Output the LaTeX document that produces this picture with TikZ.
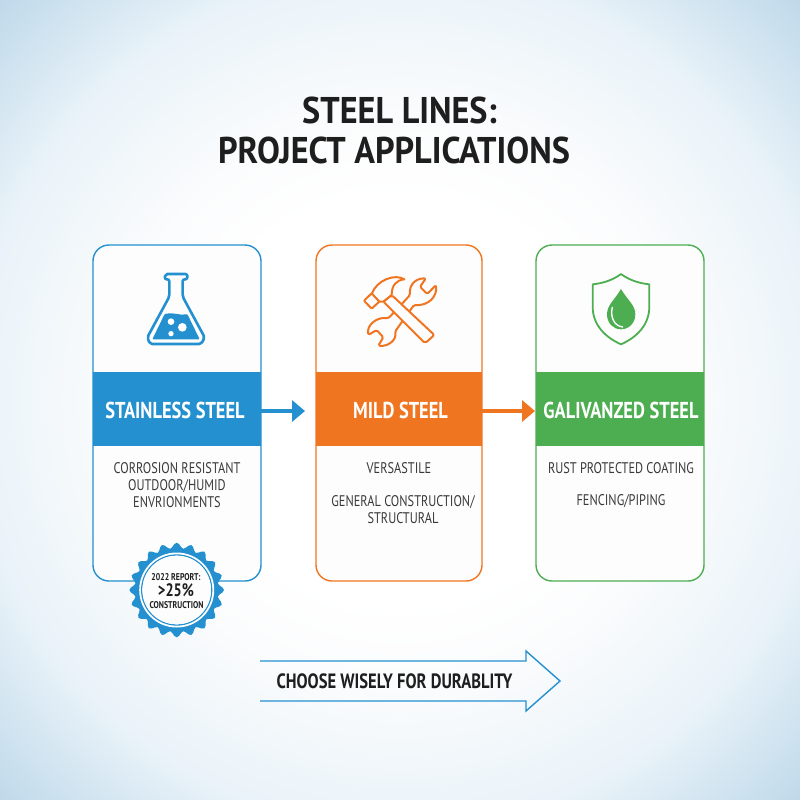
\documentclass[tikz,border=0pt]{standalone}
\usepackage{fontspec}
\setmainfont{PT Sans}
\newfontfamily\condfont[FakeStretch=0.80]{PT Sans}
\newfontfamily\titlefont[FakeStretch=0.92]{PT Sans}
\usetikzlibrary{arrows.meta,calc}
\definecolor{bluec}{HTML}{2490CF}
\definecolor{orangec}{HTML}{F07520}
\definecolor{greenc}{HTML}{4CAE50}
\definecolor{inkc}{HTML}{1E1E1E}
\definecolor{bodyc}{HTML}{3A3A3A}
\definecolor{edgec}{HTML}{BFD9EA}
\definecolor{midc}{HTML}{EAF3F9}
\definecolor{nearc}{HTML}{FBFCFD}
\definecolor{cardc}{HTML}{FDFDFE}
\pgfdeclareradialshading{bgshade}{\pgfpoint{0bp}{0bp}}{color(0bp)=(white); color(9bp)=(white); color(12.5bp)=(nearc); color(18.75bp)=(midc); color(25bp)=(edgec); color(50bp)=(edgec)}
\tikzset{
  card/.style={rectangle,rounded corners=16pt,fill=cardc,line width=1.4pt,minimum width=#1,minimum height=336pt,inner sep=0pt,outer sep=0pt},
  band/.style={rectangle,minimum width=#1,minimum height=74pt,inner sep=0pt,outer sep=0pt,text=white,font=\condfont\bfseries\fontsize{23}{25}\selectfont},
  bodytext/.style={text=bodyc,align=center,inner sep=0pt,font=\condfont\fontsize{15.4}{17}\selectfont},
  flow/.style={line width=4pt,-{Triangle[length=13pt,width=21pt]}},
  titletext/.style={text=inkc,anchor=base,inner sep=0pt,font=\titlefont\bfseries\fontsize{37.2}{38}\selectfont},
  badgetext/.style={text=inkc,anchor=base,inner sep=0pt,font=\condfont\bfseries\fontsize{#1}{#1}\selectfont},
  iconline/.style={line width=2pt,line join=round,line cap=round},
}
\begin{document}
\begin{tikzpicture}[x=1pt,y=-1pt]
\useasboundingbox (0,0) rectangle (800,800);
\begin{scope}
\clip (0,0) rectangle (800,800);
\shade[shading=bgshade] (-166,-166) rectangle (966,966);
\end{scope}

\node[titletext] (title1) at (399.5,123) {STEEL LINES:};
\node[titletext] (title2) at (394,163) {PROJECT APPLICATIONS};

\node[card=168pt,draw=bluec] (card1) at (177,413) {};
\node[card=166pt,draw=orangec] (card2) at (399,413) {};
\node[card=168pt,draw=greenc] (card3) at (620,413) {};

\node[band=168pt,fill=bluec] (band1) at (177,409) {};
\node[band=166pt,fill=orangec] (band2) at (399,409) {};
\node[band=168pt,fill=greenc] (band3) at (620,409) {};
\node[band=142pt,text=white] (name1) at (175,410) {STAINLESS STEEL};
\node[band=100pt,text=white] (name2) at (400.5,410) {MILD STEEL};
\node[band=154pt,text=white] (name3) at (621,410) {GALIVANZED STEEL};

\draw[flow,draw=bluec,shorten >=11pt] ([yshift=-2pt]band1.east) -- ([yshift=-2pt]band2.west);
\draw[flow,draw=orangec,shorten >=1pt] ([yshift=-2pt]band2.east) -- ([yshift=-2pt]band3.west);

\node[bodytext] (text1) at (177,485) {CORROSION RESISTANT\\OUTDOOR/HUMID\\ENVRIONMENTS};
\node[bodytext] (text2a) at (399,468) {VERSASTILE};
\node[bodytext] (text2b) at (403,510) {GENERAL CONSTRUCTION/\\STRUCTURAL};
\node[bodytext] (text3a) at (621,468) {RUST PROTECTED COATING};
\node[bodytext] (text3b) at (621,501) {FENCING/PIPING};

% flask
\begin{scope}[shift={(90,240)},x=0.3333pt,y=-0.3333pt]
\draw[bluec,line width=2.6pt,line join=round,fill=cardc,rounded corners=2pt]
  (226,102) -- (292,102) -- (292,118) -- (278,118) -- (278,170) -- (344,292) -- (334,312) -- (180,312) -- (172,292) -- (238,170) -- (238,118) -- (224,118) -- cycle;
\fill[bluec,rounded corners=1pt] (224,222) .. controls (255,216) and (270,228) .. (292,222) -- (329,298) -- (187,298) -- cycle;
\fill[white] (243,245) circle (10);
\fill[white] (277,262) circle (13);
\fill[white] (243,281) circle (8);
\end{scope}

% wrench and hammer
\begin{scope}[shift={(320,250)},x=0.3333pt,y=-0.3333pt]
\draw[orangec,iconline,rounded corners=1.5pt]
  (252,155) -- (270,135) .. controls (268,105) and (285,85) .. (318,85)
  -- (300,110) -- (322,132) -- (348,105) .. controls (352,140) and (325,168) .. (282,165)
  -- (225,245) .. controls (230,270) and (205,290) .. (175,287) -- (190,262) -- (170,240)
  -- (145,255) .. controls (140,225) and (170,200) .. (205,205) -- cycle;
\draw[orangec,iconline,fill=cardc,rounded corners=2pt]
  (215,135) -- (343,255) -- (315,280) -- (190,155) -- cycle;
\draw[orangec,iconline,fill=cardc]
  (155,132) .. controls (170,90) and (225,70) .. (253,88) .. controls (230,90) and (215,105) .. (215,135)
  -- (190,155) -- (178,155) -- cycle;
\draw[orangec,iconline,fill=cardc,rounded corners=1pt]
  (132,152) -- (155,130) -- (178,155) -- (155,176) -- cycle;
\end{scope}

% shield with drop
\begin{scope}[shift={(540,250)},x=0.3333pt,y=-0.3333pt]
\draw[greenc,line width=1.8pt,line join=round]
  (243,72) .. controls (270,92) and (300,100) .. (328,103) -- (328,170)
  .. controls (328,225) and (290,262) .. (243,283)
  .. controls (196,262) and (158,225) .. (158,170) -- (158,103)
  .. controls (186,100) and (216,92) .. (243,72) -- cycle;
\fill[greenc] (243,117) .. controls (262,150) and (286,165) .. (286,193)
  .. controls (286,220) and (266,238) .. (243,238)
  .. controls (220,238) and (201,220) .. (201,193)
  .. controls (201,165) and (224,150) .. (243,117) -- cycle;
\draw[white,line width=1.4pt,line cap=round] (217,172) .. controls (210,200) and (222,228) .. (248,231);
\end{scope}

% badge
\fill[bluec,line join=round]
  plot[smooth cycle,samples=120,domain=0:357,variable=\t] ({176.7+(44.5+2.8*cos(20*\t))*cos(\t)},{590+(44.5+2.8*cos(20*\t))*sin(\t)});
\fill[white] (176.7,590) circle (37.5);
\draw[bluec,line width=1.3pt] (176.7,590) circle (35);
\fill[cardc] (176.7,590) circle (34.3);
\node[badgetext=9.8] (badgea) at (176,580) {2022 REPORT:};
\node[badgetext=18] (badgeb) at (176,596.5) {>25\%};
\node[badgetext=9.8] (badgec) at (176.5,608.5) {CONSTRUCTION};

% bottom arrow
\coordinate (tailtop) at (260,661);
\coordinate (tailbot) at (260,701);
\coordinate (tip) at (560,681);
\draw[bluec,line width=1.4pt,line join=miter]
  (tailtop) -- (526,661) -- (526,651) -- (tip) -- (526,711) -- (526,701) -- (tailbot);
\node[inner sep=0pt,text=inkc,font=\condfont\bfseries\fontsize{20.7}{22}\selectfont] (choose) at (394.5,681) {CHOOSE WISELY FOR DURABLITY};
\end{tikzpicture}
\end{document}
